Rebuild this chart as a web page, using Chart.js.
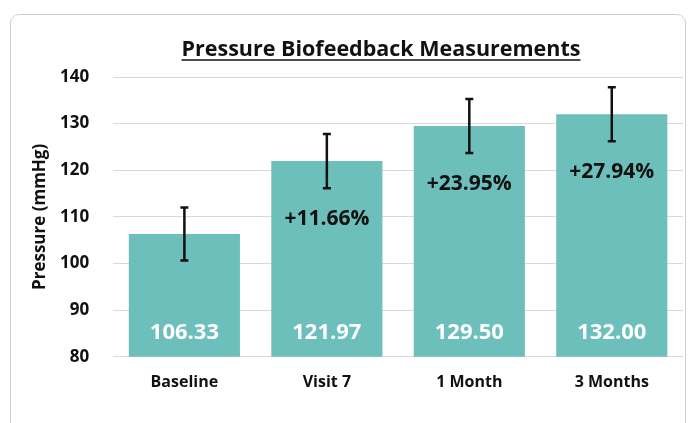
<!DOCTYPE html>
<html>
<head>
<meta charset="utf-8">
<script src="https://cdn.jsdelivr.net/npm/chart.js@4"></script>
<style>
  html, body { margin: 0; padding: 0; background: #fff; }
  #frame {
    position: absolute; left: 10px; top: 14px; width: 676px; height: 420px;
    border: 1px solid #cfcfcf; border-radius: 9px; box-sizing: border-box;
  }
  #wrap { position: absolute; left: 0; top: 0; width: 689px; height: 423px; }
</style>
</head>
<body>
<div id="frame"></div>
<div id="wrap"><canvas id="pbChart" width="689" height="423"></canvas></div>
<script>
// Data
const categories = ["Baseline", "Visit 7", "1 Month", "3 Months"];
const means = [106.33, 121.97, 129.50, 132.00];
const errors = [5.7, 5.8, 5.8, 5.8];
const changeLabels = ["", "+11.66%", "+23.95%", "+27.94%"];
const yTicks = [80, 90, 100, 110, 120, 130, 140];

const FONT = "'Open Sans', Lato, sans-serif";
const barColor = '#6dbfbb';

// Title with underline + rotated y axis title
const titlePlugin = {
  id: 'ulTitle',
  afterDraw(chart) {
    const ctx = chart.ctx;
    const text = "Pressure Biofeedback Measurements";
    ctx.save();
    ctx.font = `bold 21.5px ${FONT}`;
    ctx.fillStyle = '#111';
    ctx.textAlign = 'center';
    ctx.textBaseline = 'alphabetic';
    const cx = 381, y = 56;
    ctx.fillText(text, cx, y);
    const w = ctx.measureText(text).width;
    ctx.strokeStyle = '#111';
    ctx.lineWidth = 1.4;
    ctx.beginPath();
    ctx.moveTo(cx - w / 2, y + 4);
    ctx.lineTo(cx + w / 2, y + 4);
    ctx.stroke();

    const area = chart.chartArea;
    ctx.translate(40, (area.top + area.bottom) / 2);
    ctx.rotate(-Math.PI / 2);
    ctx.font = `bold 17px ${FONT}`;
    ctx.textBaseline = 'middle';
    ctx.fillText('Pressure (mmHg)', 0, 0);
    ctx.restore();
  }
};

// Error bars and labels
const errorBarPlugin = {
  id: 'errorBars',
  afterDatasetsDraw(chart) {
    const ctx = chart.ctx;
    const y = chart.scales.y;
    const meta = chart.getDatasetMeta(0);
    ctx.save();
    meta.data.forEach((bar, i) => {
      const top = y.getPixelForValue(means[i] + errors[i]);
      const bot = y.getPixelForValue(means[i] - errors[i]);
      ctx.strokeStyle = '#111';
      ctx.lineWidth = 2.5;
      ctx.beginPath();
      ctx.moveTo(bar.x, top); ctx.lineTo(bar.x, bot);
      ctx.moveTo(bar.x - 4, top); ctx.lineTo(bar.x + 4, top);
      ctx.moveTo(bar.x - 4, bot); ctx.lineTo(bar.x + 4, bot);
      ctx.stroke();

      // value label in the bar
      ctx.fillStyle = '#fff';
      ctx.font = `bold 22px ${FONT}`;
      ctx.textAlign = 'center';
      ctx.textBaseline = 'middle';
      ctx.fillText(means[i].toFixed(2), bar.x, y.bottom - 24);

      // change label
      if (changeLabels[i]) {
        ctx.fillStyle = '#111';
        ctx.font = `bold 21px ${FONT}`;
        ctx.fillText(changeLabels[i], bar.x, bot + 31);
      }
    });
    ctx.restore();
  }
};

new Chart(document.getElementById('pbChart'), {
  type: 'bar',
  data: {
    labels: categories,
    datasets: [{
      data: means,
      backgroundColor: barColor,
      categoryPercentage: 1,
      barPercentage: 0.78
    }]
  },
  options: {
    responsive: false,
    animation: false,
    layout: { padding: { top: 77, left: 36, right: 6, bottom: 23 } },
    plugins: {
      legend: { display: false },
      tooltip: { enabled: false }
    },
    scales: {
      x: {
        grid: { display: false },
        border: { display: false },
        ticks: { color: '#111', font: { family: FONT, size: 16, weight: 'bold' }, padding: 8 }
      },
      y: {
        min: 80, max: 140,
        afterBuildTicks: axis => { axis.ticks = yTicks.map(v => ({ value: v })); },
        grid: { color: '#d9d9d9', lineWidth: 1, drawTicks: false },
        border: { display: false },
        ticks: { color: '#111', font: { family: FONT, size: 17, weight: 'bold' }, padding: 24 }
      }
    }
  },
  plugins: [titlePlugin, errorBarPlugin]
});
</script>
</body>
</html>
